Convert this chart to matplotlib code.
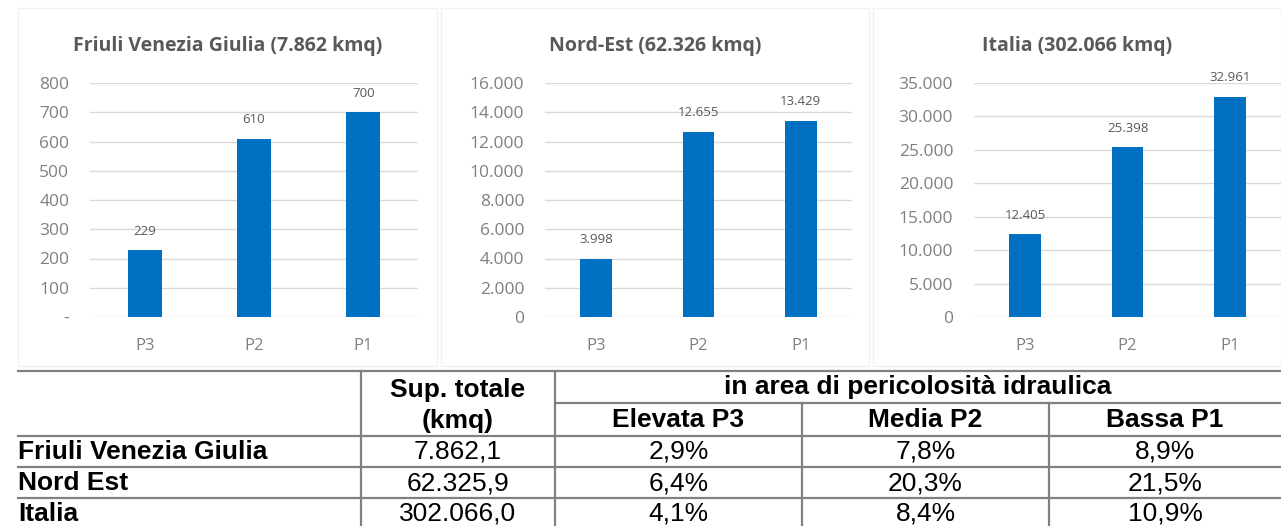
import matplotlib
matplotlib.use("Agg")
import matplotlib.pyplot as plt
from matplotlib.ticker import FixedLocator, FuncFormatter
from matplotlib.patches import Rectangle

# ---- chart data ----
categories = ["P3", "P2", "P1"]
panel_titles = ["Friuli Venezia Giulia (7.862 kmq)", "Nord-Est (62.326 kmq)", "Italia (302.066 kmq)"]
fvg_values = [229, 610, 700]
nordest_values = [3998, 12655, 13429]
italia_values = [12405, 25398, 32961]
y_max = [800, 16000, 35000]
y_step = [100, 2000, 5000]

# ---- table data ----
table_regions = ["Friuli Venezia Giulia", "Nord Est", "Italia"]
sup_totale = [7862.1, 62325.9, 302066.0]
elevata_p3 = [2.9, 6.4, 4.1]
media_p2 = [7.8, 20.3, 8.4]
bassa_p1 = [8.9, 21.5, 10.9]
header_sup = ["Sup. totale", "(kmq)"]
header_group = "in area di pericolosità idraulica"
header_classes = ["Elevata P3", "Media P2", "Bassa P1"]

W, H = 1281, 526
BAR = "#0070C0"
GRID = "#d9d9d9"
TICK = "#808080"
TITLE = "#595959"
LINE = "#808080"


def it_num(v, dec=0):
    s = f"{v:,.{dec}f}"
    return s.replace(",", "X").replace(".", ",").replace("X", ".")


fig = plt.figure(figsize=(W / 100, H / 100), dpi=100)
fig.patch.set_facecolor("white")


def px_axes(left, top, right, bottom, **kw):
    return fig.add_axes([left / W, 1 - bottom / H, (right - left) / W, (bottom - top) / H], **kw)


# background layer for panel frames and the table
bg = fig.add_axes([0, 0, 1, 1], zorder=0)
bg.set_xlim(0, W)
bg.set_ylim(H, 0)
bg.axis("off")

panels = [
    # frame (l, t, r, b), plot area (l, t, r, b), values, dash for zero
    ((18, 8, 437, 366), (90, 83, 418, 317), fvg_values, True),
    ((441, 8, 869, 366), (545, 83, 852, 317), nordest_values, False),
    ((873, 8, 1281, 366), (974, 83, 1281, 317), italia_values, False),
]

for i, (frame, area, vals, dash_zero) in enumerate(panels):
    fl, ft, fr, fb = frame
    bg.add_patch(Rectangle((fl, ft), fr - fl, fb - ft, fill=False, ec="#f0f0f0", lw=1.0))
    bg.text((fl + fr) / 2, 46, panel_titles[i], ha="center", va="center",
            fontsize=14, fontweight="bold", color=TITLE, family="Open Sans")

    ax = px_axes(*area, zorder=2)
    ax.set_facecolor("none")
    x = range(len(categories))
    ax.bar(x, vals, width=0.31, color=BAR, zorder=3)
    ax.set_xlim(-0.5, 2.5)
    ax.set_ylim(0, y_max[i])
    ticks = list(range(0, y_max[i] + 1, y_step[i]))
    ax.yaxis.set_major_locator(FixedLocator(ticks))
    if dash_zero:
        ax.yaxis.set_major_formatter(FuncFormatter(lambda v, p: "-" if v == 0 else it_num(v)))
    else:
        ax.yaxis.set_major_formatter(FuncFormatter(lambda v, p: it_num(v)))
    ax.set_xticks(list(x))
    ax.set_xticklabels(categories)
    ax.grid(axis="y", color=GRID, lw=1.0, zorder=0)
    ax.set_axisbelow(True)
    for s in ax.spines.values():
        s.set_visible(False)
    ax.tick_params(axis="y", length=0, pad=15, labelsize=12.5, labelcolor=TICK)
    ax.tick_params(axis="x", length=0, pad=15, labelsize=12, labelcolor=TICK)
    for lab in ax.get_xticklabels() + ax.get_yticklabels():
        lab.set_family("Open Sans")
    for xi, v in zip(x, vals):
        ax.annotate(it_num(v), (xi, v), xytext=(0, 9), textcoords="offset points",
                    ha="center", va="bottom", fontsize=9.5, color=TITLE, family="Open Sans")

# ---- table ----
col_edges = [18, 361, 555, 802, 1049, 1281]
y_top, y_sub, y_head = 371, 403, 436
row_h = 31
lw = 1.6
TFONT = "Liberation Sans"
FS = 19

bg.plot([col_edges[0], W], [y_top, y_top], color=LINE, lw=lw)
bg.plot([col_edges[2], W], [y_sub, y_sub], color=LINE, lw=lw)
bg.plot([col_edges[0], W], [y_head, y_head], color=LINE, lw=lw)
for r in range(1, len(table_regions) + 1):
    yy = y_head + r * row_h
    bg.plot([col_edges[0], W], [yy, yy], color=LINE, lw=lw)
y_end = y_head + len(table_regions) * row_h + 5
for xe in col_edges[1:3]:
    bg.plot([xe, xe], [y_top, y_end], color=LINE, lw=lw)
for xe in col_edges[3:5]:
    bg.plot([xe, xe], [y_sub, y_end], color=LINE, lw=lw)

sup_cx = (col_edges[1] + col_edges[2]) / 2
bg.text(sup_cx, 390, header_sup[0], ha="center", va="center",
        fontsize=FS, fontweight="bold", family=TFONT)
bg.text(sup_cx, 421, header_sup[1], ha="center", va="center",
        fontsize=FS, fontweight="bold", family=TFONT)
bg.text((col_edges[2] + W) / 2, 387, header_group, ha="center", va="center",
        fontsize=FS, fontweight="bold", family=TFONT)
for j, h in enumerate(header_classes):
    bg.text((col_edges[2 + j] + col_edges[3 + j]) / 2, 420, h,
            ha="center", va="center", fontsize=FS, fontweight="bold", family=TFONT)

for r, name in enumerate(table_regions):
    yc = y_head + r * row_h + row_h / 2 + 0.5
    bg.text(col_edges[0], yc, name, ha="left", va="center", fontsize=FS,
            fontweight="bold", family=TFONT)
    cells = [it_num(sup_totale[r], 1)] + [it_num(c[r], 1) + "%" for c in (elevata_p3, media_p2, bassa_p1)]
    for j, c in enumerate(cells):
        bg.text((col_edges[1 + j] + col_edges[2 + j]) / 2, yc, c, ha="center", va="center",
                fontsize=FS, family=TFONT)

fig.savefig("out.png", dpi=100)
